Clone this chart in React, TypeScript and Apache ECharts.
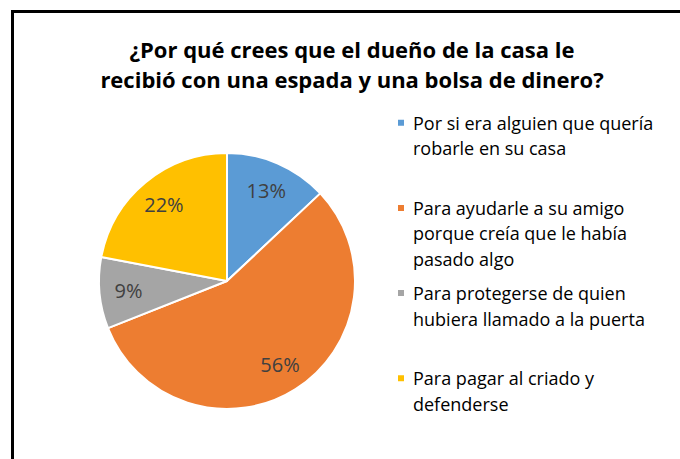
import React, { useEffect, useRef } from "react";
import * as echarts from "echarts";

const titleLines = [
  "¿Por qué crees que el dueño de la casa le",
  "recibió con una espada y una bolsa de dinero?",
];
const categories = [
  "Por si era alguien que quería robarle en su casa",
  "Para ayudarle a su amigo porque creía que le había pasado algo",
  "Para protegerse de quien hubiera llamado a la puerta",
  "Para pagar al criado y defenderse",
];
const legendLines = [
  ["Por si era alguien que quería", "robarle en su casa"],
  ["Para ayudarle a su amigo", "porque creía que le había", "pasado algo"],
  ["Para protegerse de quien", "hubiera llamado a la puerta"],
  ["Para pagar al criado y", "defenderse"],
];
const values = [13, 56, 9, 22];
const colors = ["#5B9BD5", "#ED7D31", "#A5A5A5", "#FFC000"];

const FONT = "'Open Sans', sans-serif";
const LH = 25.5;

export default function App() {
  const ref = useRef<HTMLDivElement>(null);
  useEffect(() => {
    if (!ref.current) return;
    const chart = echarts.init(ref.current, null, { renderer: "svg" });
    const center = [227, 281];
    const R = 128;
    const data = categories.map((name, i) => ({
      name,
      value: values[i],
      itemStyle: { color: colors[i] },
    }));
    const legends = categories.map((name, i) => {
      const n = legendLines[i].length;
      const firstCenter = 122.7 + i * 85.2;
      return {
        data: [{ name, itemStyle: { color: colors[i] } }],
        orient: "vertical",
        left: 396,
        top: firstCenter - ((2 * n - 1) * LH) / 2,
        padding: 0,
        icon: "rect",
        itemWidth: 8,
        itemHeight: 8,
        selectedMode: false,
        formatter: () => "\n".repeat(n - 1) + legendLines[i].join("\n"),
        textStyle: {
          fontFamily: FONT,
          fontSize: 18,
          color: "#000",
          lineHeight: LH,
          padding: [0, 0, 0, 3],
        },
      };
    });
    chart.setOption({
      animation: false,
      backgroundColor: "#fff",
      title: {
        text: titleLines.join("\n"),
        left: 352,
        top: 34,
        padding: 0,
        textAlign: "center",
        textStyle: {
          fontFamily: FONT,
          fontWeight: "bold",
          fontSize: 22,
          lineHeight: 30,
          color: "#000",
        },
      },
      legend: legends,
      graphic: [
        {
          type: "rect",
          shape: { x: 12.5, y: 11.5, width: 800, height: 600 },
          style: { fill: "none", stroke: "#000", lineWidth: 3 },
          silent: true,
          z: -1,
        },
      ],
      series: [
        {
          type: "pie",
          center,
          radius: R,
          startAngle: 90,
          clockwise: true,
          data,
          label: { show: false },
          labelLine: { show: false },
          itemStyle: { borderColor: "#fff", borderWidth: 2 },
          emphasis: { disabled: true },
          silent: true,
        },
        {
          type: "pie",
          center,
          radius: [R * 0.5, R],
          startAngle: 90,
          clockwise: true,
          data: categories.map((name, i) => ({ name, value: values[i] })),
          itemStyle: { color: "rgba(0,0,0,0)" },
          label: {
            show: true,
            position: "inside",
            formatter: "{c}%",
            fontFamily: FONT,
            fontSize: 20,
            color: "#404040",
          },
          labelLine: { show: false },
          emphasis: { disabled: true },
          silent: true,
        },
      ],
    });
    return () => chart.dispose();
  }, []);
  return (
    <div
      ref={ref}
      style={{ position: "fixed", left: 0, top: 0, width: 680, height: 459 }}
    />
  );
}
